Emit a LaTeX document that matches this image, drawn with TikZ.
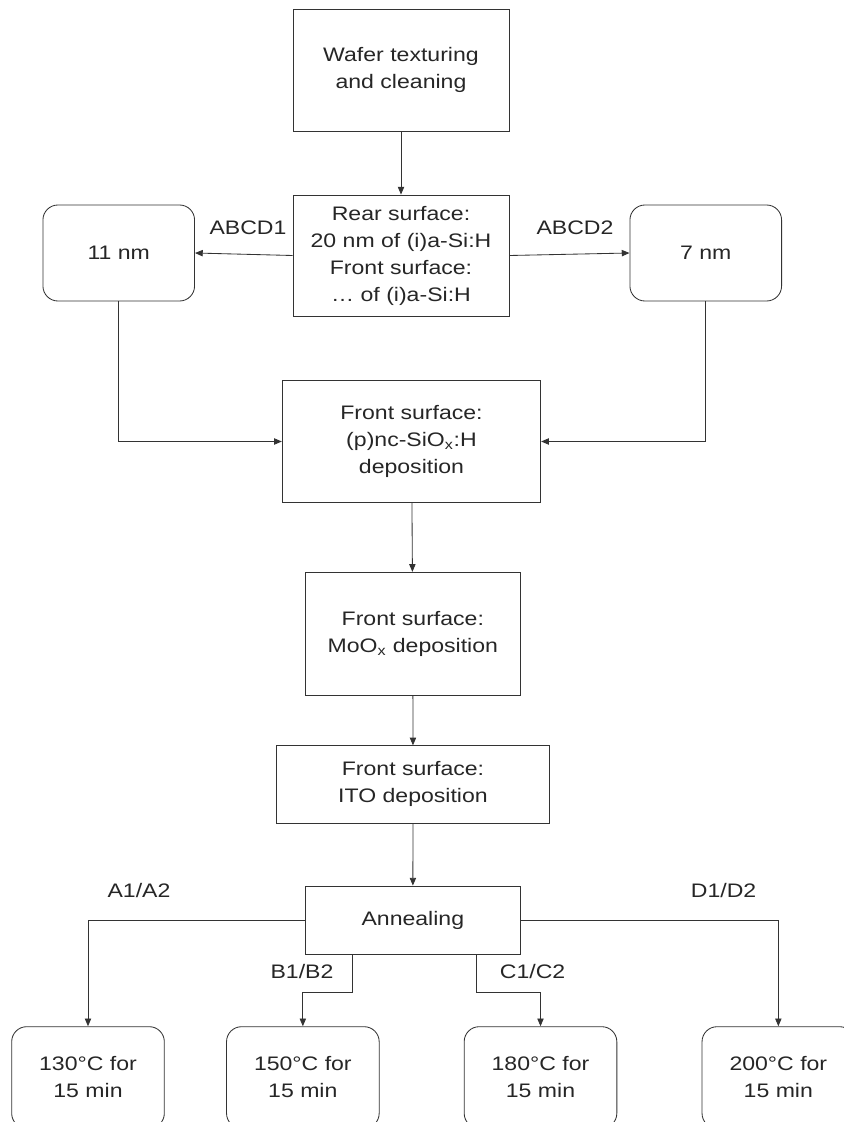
\documentclass[tikz,border=0pt]{standalone}
\usepackage{fontspec}
\setmainfont{Liberation Sans}[FakeStretch=1.18]
\usepackage{tikz}
\usetikzlibrary{shapes,arrows.meta,positioning}

\begin{document}
\begin{tikzpicture}[x=0.025cm,y=-0.025cm,
  font=\fontsize{13.9}{19.2}\selectfont, text=black!85,
  box/.style={draw=black!80, line width=0.6pt, align=center, inner sep=2pt},
  rbox/.style={box, rounded corners=0.375cm},
  arr/.style={draw=black!80, line width=0.6pt, -{Triangle[length=5.5pt,width=4.5pt]}}]
\useasboundingbox (0,0) rectangle (843,1122);

\node [box, minimum width=5.4cm, minimum height=3.05cm] (wafer) at (401,70) {Wafer texturing\\and cleaning};
\node [box, minimum width=5.4cm, minimum height=3.025cm] (rear) at (401,255.5) {Rear surface:\\20 nm of (i)a-Si:H\\Front surface:\\\dots{} of (i)a-Si:H};
\node [rbox, minimum width=3.79cm, minimum height=2.4cm] (nm11) at (118.75,253) {11 nm};
\node [rbox, minimum width=3.79cm, minimum height=2.4cm] (nm7) at (705.75,253) {7 nm};
\node (abcd1) at (248,228) {ABCD1};
\node (abcd2) at (575,228) {ABCD2};

\node [box, minimum width=6.46cm, minimum height=3.04cm] (siox) at (411.5,441.5) {Front surface:\\(p)nc-SiO\textsubscript{x}:H\\deposition};
\node [box, minimum width=5.39cm, minimum height=3.07cm] (moox) at (412.85,633.7) {Front surface:\\MoO\textsubscript{x} deposition};
\node [box, minimum width=6.815cm, minimum height=1.93cm] (ito) at (413,784.4) {Front surface:\\ITO deposition};
\node [box, minimum width=5.39cm, minimum height=1.7cm] (anneal) at (412.85,920) {Annealing};

% annealing temperatures
\node [rbox, minimum width=3.815cm, minimum height=2.54cm] (t130) at (88,1077.5) {130°C for\\15 min};
\node [rbox, minimum width=3.815cm, minimum height=2.54cm] (t150) at (302.85,1077.5) {150°C for\\15 min};
\node [rbox, minimum width=3.815cm, minimum height=2.54cm] (t180) at (540.5,1077.5) {180°C for\\15 min};
\node [rbox, minimum width=3.815cm, minimum height=2.54cm] (t200) at (778.35,1077.5) {200°C for\\15 min};
\node (lab) at (139,891) {A1/A2};
\node (lbb) at (302,972) {B1/B2};
\node (lcc) at (532.6,972) {C1/C2};
\node (ldd) at (723.6,891) {D1/D2};

\draw [arr] (wafer) -- (rear);
\draw [arr] (rear.west) -- (nm11.east);
\draw [arr] (rear.east) -- (nm7.west);
\draw [arr] (nm11.south) |- (siox.west);
\draw [arr] (nm7.south) |- (siox.east);
\draw [arr] (siox) -- (moox);
\draw [arr] (moox) -- (ito);
\draw [arr] (ito) -- (anneal);
\draw [arr] (anneal.west) -| (t130.north);
\draw [arr] (anneal.east) -| (t200.north);
\draw [arr] ([xshift=-1.5cm]anneal.south) -- ++(0,-0.95cm) -| (t150.north);
\draw [arr] ([xshift=1.6cm]anneal.south) -- ++(0,-0.95cm) -| (t180.north);

\end{tikzpicture}
\end{document}
